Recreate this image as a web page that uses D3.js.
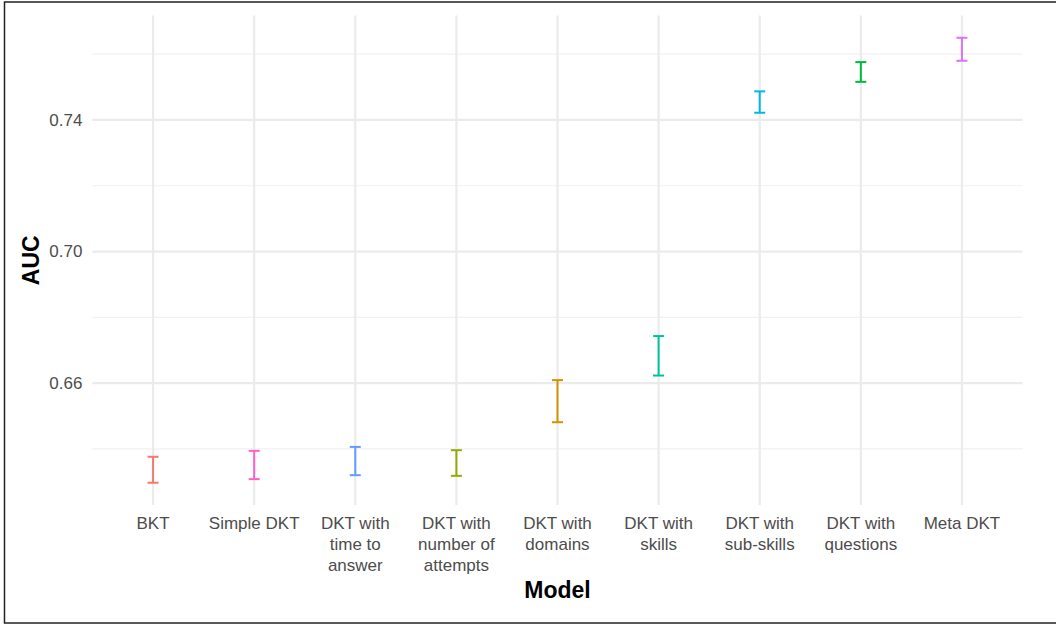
<!DOCTYPE html>
<html>
<head>
<meta charset="utf-8">
<script src="https://cdn.jsdelivr.net/npm/d3@7"></script>
<style>
  html, body { margin: 0; padding: 0; background: #fff; }
  svg { display: block; }
  text { font-family: "Liberation Sans", Arial, Helvetica, sans-serif; }
</style>
</head>
<body>
<svg id="chart" width="1056" height="625"></svg>
<script>
// ---- data ----
const models = ["BKT", "Simple DKT", "DKT with time to answer", "DKT with number of attempts",
  "DKT with domains", "DKT with skills", "DKT with sub-skills", "DKT with questions", "Meta DKT"];
const labelLines = [["BKT"], ["Simple DKT"], ["DKT with", "time to", "answer"], ["DKT with", "number of", "attempts"],
  ["DKT with", "domains"], ["DKT with", "skills"], ["DKT with", "sub-skills"], ["DKT with", "questions"], ["Meta DKT"]];
const aucLow  = [0.6297, 0.6308, 0.6320, 0.6318, 0.6481, 0.6623, 0.7422, 0.7516, 0.7580];
const aucHigh = [0.6376, 0.6394, 0.6406, 0.6396, 0.6609, 0.6743, 0.7487, 0.7576, 0.7650];
const colors  = ["#F8766D", "#FF61C3", "#619CFF", "#93AA00", "#D39200", "#00C19F", "#00B9E3", "#00BA38", "#DB72FB"];
const yMajorTicks = [0.66, 0.70, 0.74];
const yMinorTicks = [0.64, 0.68, 0.72, 0.76];

// ---- layout ----
const svg = d3.select("#chart");
const pLeft = 92.4, pRight = 1022.6, pTop = 15.5, pBottom = 505;

const x = d3.scalePoint().domain(models).range([pLeft, pRight]).padding(0.6);
const lo = d3.min(aucLow), hi = d3.max(aucHigh), ex = (hi - lo) * 0.05;
const y = d3.scaleLinear().domain([lo - ex, hi + ex]).range([pBottom, pTop]);

// border
svg.append("rect").attr("x", 4.5).attr("y", 2).attr("width", 1060).attr("height", 621)
  .attr("fill", "none").attr("stroke", "#222").attr("stroke-width", 1.5);

// grid
const g = svg.append("g");
g.selectAll(".minor").data(yMinorTicks).join("line")
  .attr("x1", pLeft).attr("x2", pRight).attr("y1", d => y(d)).attr("y2", d => y(d))
  .attr("stroke", "#F1F1F1").attr("stroke-width", 1.2);
g.selectAll(".major").data(yMajorTicks).join("line")
  .attr("x1", pLeft).attr("x2", pRight).attr("y1", d => y(d)).attr("y2", d => y(d))
  .attr("stroke", "#EBEBEB").attr("stroke-width", 2.2);
g.selectAll(".vmajor").data(models).join("line")
  .attr("x1", d => x(d)).attr("x2", d => x(d)).attr("y1", pTop).attr("y2", pBottom)
  .attr("stroke", "#EBEBEB").attr("stroke-width", 2.2);

// y axis labels
const yAxis = d3.axisLeft(y).tickValues(yMajorTicks).tickFormat(d3.format(".2f")).tickSize(0).tickPadding(10);
const ya = svg.append("g").attr("transform", `translate(${pLeft},0)`).call(yAxis);
ya.select(".domain").remove();
ya.selectAll("text").attr("fill", "#4D4D4D").style("font-size", "17px")
  .style("font-family", '"Liberation Sans", Arial, sans-serif');

// x axis labels
const xl = svg.append("g");
models.forEach((m, i) => {
  const t = xl.append("text").attr("x", x(m)).attr("y", 528.5).attr("text-anchor", "middle")
    .attr("fill", "#4D4D4D").style("font-size", "17px");
  labelLines[i].forEach((ln, j) => {
    t.append("tspan").attr("x", x(m)).attr("dy", j === 0 ? 0 : 21).text(ln);
  });
});

// error bars
const eb = svg.append("g");
models.forEach((m, i) => {
  const cx = x(m), c = colors[i];
  eb.append("line").attr("x1", cx).attr("x2", cx).attr("y1", y(aucLow[i])).attr("y2", y(aucHigh[i]))
    .attr("stroke", c).attr("stroke-width", 2);
  [aucLow[i], aucHigh[i]].forEach(v => {
    eb.append("line").attr("x1", cx - 5.5).attr("x2", cx + 5.5).attr("y1", y(v)).attr("y2", y(v))
      .attr("stroke", c).attr("stroke-width", 2);
  });
});

// titles
svg.append("text").attr("x", (pLeft + pRight) / 2).attr("y", 597.5).attr("text-anchor", "middle")
  .style("font-size", "23px").style("font-weight", "bold").attr("fill", "#000").text("Model");
svg.append("text").attr("transform", `translate(38.5,${(pTop + pBottom) / 2}) rotate(-90)`)
  .attr("text-anchor", "middle").style("font-size", "23px").style("font-weight", "bold")
  .attr("fill", "#000").text("AUC");
</script>
</body>
</html>
